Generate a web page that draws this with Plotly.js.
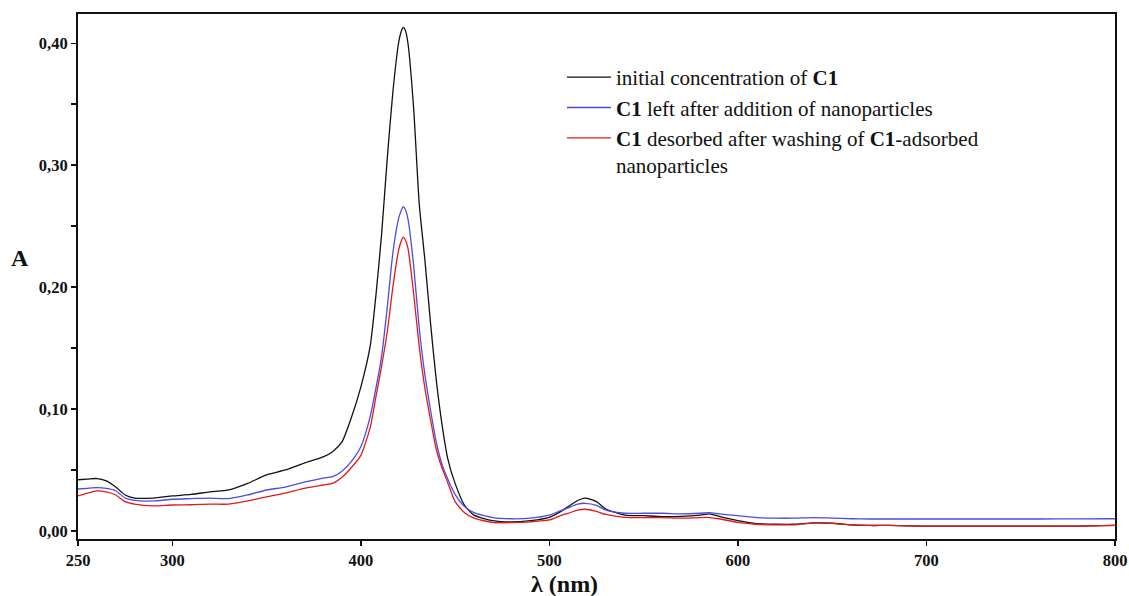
<!DOCTYPE html>
<html>
<head>
<meta charset="utf-8">
<script src="https://cdn.plot.ly/plotly-3.0.1.min.js"></script>
<style>html,body{margin:0;padding:0;background:#fff;}#chart{width:1129px;height:596px;}</style>
</head>
<body>
<div id="chart"></div>
<script>
// Wavelengths (nm)
var wavelength = [250,255,260,265,270,275,280,290,300,310,320,330,340,350,360,370,380,385,390,395,400,405,408,411,414,417,420,421.5,422.5,423.5,425,428,431,434,437,440,443,446,450,455,460,470,480,490,500,505,510,515,519,525,530,540,550,560,570,580,585,590,600,610,620,630,640,650,660,670,680,700,720,740,760,780,800];

// Absorbance series
var initialC1 = [0.042,0.0425,0.043,0.041,0.036,0.0295,0.027,0.027,0.0287,0.030,0.032,0.0336,0.039,0.046,0.050,0.0557,0.0607,0.065,0.073,0.093,0.118,0.152,0.193,0.243,0.305,0.360,0.400,0.410,0.413,0.411,0.400,0.347,0.268,0.222,0.170,0.124,0.088,0.060,0.039,0.021,0.013,0.0085,0.0074,0.0085,0.0112,0.015,0.020,0.025,0.027,0.024,0.018,0.013,0.0125,0.0118,0.012,0.013,0.014,0.012,0.0085,0.006,0.0055,0.0055,0.0066,0.0063,0.005,0.0045,0.0045,0.004,0.004,0.004,0.004,0.004,0.0045];

var leftAfterNP = [0.0344,0.035,0.0355,0.035,0.033,0.027,0.025,0.0246,0.026,0.0265,0.027,0.0265,0.0295,0.0336,0.036,0.040,0.0434,0.0445,0.049,0.057,0.069,0.094,0.117,0.143,0.183,0.228,0.256,0.263,0.266,0.264,0.256,0.218,0.166,0.128,0.099,0.073,0.055,0.043,0.030,0.020,0.015,0.011,0.010,0.0105,0.0129,0.016,0.019,0.022,0.0227,0.021,0.017,0.0145,0.0145,0.0145,0.014,0.0145,0.015,0.014,0.0125,0.011,0.0105,0.0105,0.011,0.0105,0.010,0.0098,0.0098,0.0098,0.0098,0.0098,0.0098,0.0099,0.010];

var desorbed = [0.0287,0.031,0.0328,0.032,0.0295,0.024,0.022,0.0205,0.0213,0.0215,0.022,0.022,0.0246,0.028,0.031,0.035,0.0377,0.039,0.044,0.052,0.062,0.085,0.110,0.135,0.163,0.200,0.230,0.238,0.241,0.239,0.232,0.195,0.151,0.117,0.091,0.067,0.052,0.040,0.024,0.015,0.0106,0.007,0.0068,0.0075,0.009,0.012,0.0145,0.017,0.0178,0.016,0.0135,0.0112,0.011,0.011,0.0105,0.011,0.011,0.010,0.007,0.0055,0.005,0.005,0.0065,0.0062,0.005,0.0045,0.0045,0.004,0.004,0.004,0.004,0.004,0.0045];

var seriesNames = [
  'initial concentration of <b>C1</b>',
  '<b>C1</b> left after addition of nanoparticles',
  '<b>C1</b> desorbed after washing of <b>C1</b>-adsorbed<br>nanoparticles'
];
var seriesColors = ['#111111', '#4b4be6', '#e3191c'];

var xTickVals = [250,300,400,500,600,700,800];
var xTickText = ['250','300','400','500','600','700','800'];
var yTickVals = [0,0.05,0.10,0.15,0.20,0.25,0.30,0.35,0.40];
var yTickText = ['0,00','','0,10','','0,20','','0,30','','0,40'];

var ys = [initialC1, leftAfterNP, desorbed];
var traces = ys.map(function(y, i){
  return {x: wavelength, y: y, type: 'scatter', mode: 'lines', name: seriesNames[i],
          line: {color: seriesColors[i], width: 1.3, shape: 'spline', smoothing: 0.6}};
});

var serif = '"Liberation Serif", "Times New Roman", serif';
var layout = {
  width: 1129, height: 596,
  margin: {l: 78, r: 14, t: 14, b: 57},
  paper_bgcolor: '#ffffff', plot_bgcolor: '#ffffff',
  showlegend: true,
  legend: {x: (562-78)/1037, y: 0.918, xanchor: 'left', yanchor: 'top', bgcolor: 'rgba(0,0,0,0)',
           borderwidth: 0, valign: 'top', tracegroupgap: 0, itemwidth: 44,
           font: {family: serif, size: 21, color: '#111'}},
  xaxis: {range: [250, 800], tickvals: xTickVals, ticktext: xTickText,
          showgrid: false, zeroline: false, showline: true, linecolor: '#111', linewidth: 2,
          mirror: true, ticks: 'outside', ticklen: 5, tickwidth: 1.5, tickcolor: '#111',
          tickfont: {family: serif, size: 16.5, color: '#111', weight: 'bold'}},
  yaxis: {range: [-0.0066, 0.424], tickvals: yTickVals, ticktext: yTickText,
          showgrid: false, zeroline: false, showline: true, linecolor: '#111', linewidth: 2,
          mirror: true, ticks: 'outside', ticklen: 5, tickwidth: 1.5, tickcolor: '#111',
          tickfont: {family: serif, size: 16.5, color: '#111', weight: 'bold'}},
  annotations: [
    {text: '<b>λ (nm)</b>', xref: 'paper', yref: 'paper', x: (564-78)/1037, y: -0.085,
     xanchor: 'center', yanchor: 'middle', showarrow: false,
     font: {family: serif, size: 24, color: '#111'}},
    {text: '<b>A</b>', xref: 'paper', yref: 'paper', x: (20-78)/1037, y: (539-258)/525,
     xanchor: 'center', yanchor: 'middle', showarrow: false,
     font: {family: serif, size: 24, color: '#111'}}
  ]
};

Plotly.newPlot('chart', traces, layout, {staticPlot: true, displayModeBar: false});
</script>
</body>
</html>
